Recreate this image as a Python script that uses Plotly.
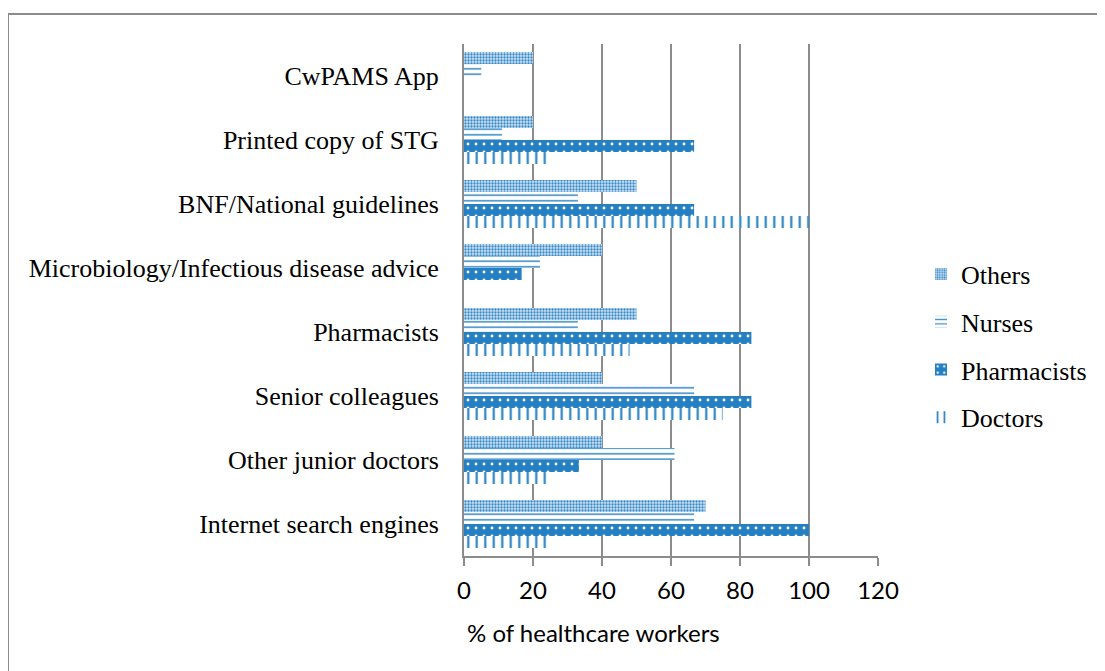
import plotly.graph_objects as go

categories = ["Internet search engines", "Other junior doctors", "Senior colleagues",
              "Pharmacists", "Microbiology/Infectious disease advice",
              "BNF/National guidelines", "Printed copy of STG", "CwPAMS App"]

doctors = [24, 24, 75, 48, 0, 100, 24, 0]
pharmacists = [100, 33.3, 83.3, 83.3, 16.7, 66.7, 66.7, 0]
nurses = [66.7, 61, 66.7, 33, 22, 33, 11, 5]
others = [70, 40, 40, 50, 40, 50, 20, 20]

x_ticks = [0, 20, 40, 60, 80, 100, 120]

BLUE = "#2580c3"
GRAY = "#8c8c8c"
SERIF = "Liberation Serif"
SANS = "Lato"

# page is offset by the body margin (8 px); figure coords = page coords - 8
L, R, T, B = 456, 870, 36, 548
W, H = 1105, 671
PW, PH = R - L, B - T

series = [
    ("Doctors", doctors, 4, dict(shape="|", fgcolor=BLUE, bgcolor="white", size=8.5, solidity=0.25,
                                 fgopacity=1, fillmode="overlay")),
    ("Pharmacists", pharmacists, 3, dict(shape=".", fgcolor="white", bgcolor=BLUE, size=8, solidity=0.1,
                                         fgopacity=1, fillmode="overlay")),
    ("Nurses", nurses, 2, dict(shape="-", fgcolor=BLUE, bgcolor="white", size=5.5, solidity=0.3,
                               fgopacity=0.85, fillmode="overlay")),
    ("Others", others, 1, dict(shape=".", fgcolor=BLUE, bgcolor="#cfe2f3", size=3, solidity=0.45,
                               fgopacity=0.9, fillmode="overlay")),
]

fig = go.Figure()
for name, vals, rank, pat in series:
    fig.add_trace(go.Bar(
        y=categories, x=vals, name=name, orientation="h",
        legendgroup=name, legendrank=rank,
        marker=dict(color=pat["bgcolor"], line=dict(width=0), pattern=pat),
    ))

fig.update_layout(
    width=W, height=H,
    margin=dict(l=L, r=W - R, t=T, b=H - B, autoexpand=False),
    paper_bgcolor="white", plot_bgcolor="white",
    font=dict(family=SERIF, color="black"),
    barmode="group", bargap=0.25, bargroupgap=0,
    showlegend=True,
    legend=dict(traceorder="grouped", tracegroupgap=11,
                x=(913 - L) / PW, xanchor="left", y=(B - 338) / PH, yanchor="middle",
                font=dict(family=SERIF, size=26, color="black"),
                itemwidth=30, bgcolor="rgba(0,0,0,0)"),
    xaxis=dict(range=[0, 120], tickvals=x_ticks, showgrid=True, gridcolor=GRAY, gridwidth=2,
               showline=True, linecolor=GRAY, linewidth=2, ticks="outside", ticklen=8,
               tickcolor=GRAY, tickwidth=2, zeroline=False,
               tickfont=dict(family=SANS, size=24, color="black"), ticklabelstandoff=4),
    yaxis=dict(showgrid=False, showline=True, linecolor=GRAY, linewidth=2, ticks="",
               tickfont=dict(family=SERIF, size=26, color="black"), ticklabelstandoff=18,
               automargin=False),
    annotations=[dict(text="% of healthcare workers", xref="paper", yref="paper",
                      x=(457 - L) / PW, xanchor="left", y=(B - 624) / PH, yanchor="middle",
                      showarrow=False, font=dict(family=SANS, size=24, color="black"))],
    shapes=[dict(type="rect", xref="paper", yref="paper",
                 x0=(0 - L) / PW, x1=(1115 - L) / PW,
                 y0=(B - 690) / PH, y1=(B - 6) / PH,
                 line=dict(color=GRAY, width=2), fillcolor="rgba(0,0,0,0)", layer="below")],
)

fig.write_html("out.html")
